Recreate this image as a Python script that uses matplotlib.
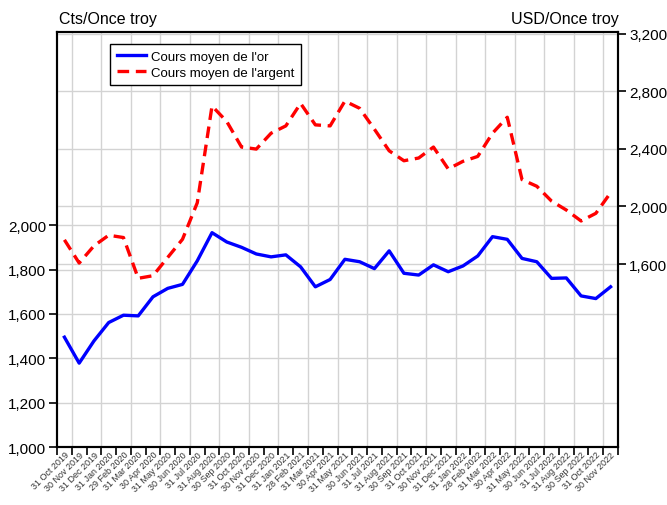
import numpy as np
import matplotlib
matplotlib.use('Agg')
import matplotlib.pyplot as plt

plt.rcParams['font.family'] = ['Liberation Sans', 'DejaVu Sans']

dates = ['31 Oct 2019', '30 Nov 2019', '31 Dec 2019', '31 Jan 2020', '29 Feb 2020',
         '31 Mar 2020', '30 Apr 2020', '31 May 2020', '30 Jun 2020', '31 Jul 2020',
         '31 Aug 2020', '30 Sep 2020', '31 Oct 2020', '30 Nov 2020', '31 Dec 2020',
         '31 Jan 2021', '28 Feb 2021', '31 Mar 2021', '30 Apr 2021', '31 May 2021',
         '30 Jun 2021', '31 Jul 2021', '31 Aug 2021', '30 Sep 2021', '31 Oct 2021',
         '30 Nov 2021', '31 Dec 2021', '31 Jan 2022', '28 Feb 2022', '31 Mar 2022',
         '30 Apr 2022', '31 May 2022', '30 Jun 2022', '31 Jul 2022', '31 Aug 2022',
         '30 Sep 2022', '31 Oct 2022', '30 Nov 2022']

# gold, left axis
gold = [1495, 1378, 1478, 1561, 1594, 1591, 1677, 1715, 1733, 1839,
        1966, 1924, 1900, 1870, 1857, 1866, 1812, 1722, 1755, 1846,
        1835, 1804, 1884, 1783, 1775, 1821, 1790, 1816, 1861, 1948,
        1936, 1850, 1835, 1760, 1762, 1681, 1669, 1722]

# silver, right axis
silver = [1768, 1607, 1726, 1800, 1784, 1501, 1519, 1646, 1772, 2025,
          2697, 2589, 2412, 2398, 2508, 2559, 2715, 2566, 2559, 2731,
          2681, 2536, 2386, 2317, 2336, 2412, 2260, 2313, 2347, 2508,
          2619, 2186, 2140, 2037, 1975, 1899, 1952, 2095]

left_ticks = [1000, 1200, 1400, 1600, 1800, 2000]
right_ticks = [1600, 2000, 2400, 2800, 3200]

x = np.arange(len(dates))

fig = plt.figure(figsize=(6.67, 5.06), dpi=100)
ax = fig.add_axes([0.0855, 0.1146, 0.841, 0.820])
ax2 = ax.twinx()

ax.set_xlim(-0.5, len(dates) - 0.5)
ax.set_ylim(1000, 2870)
ax2.set_ylim(330, 3210)

grid_kw = dict(color='#d3d3d3', linewidth=1.0)
ax.set_yticks(left_ticks)
ax.set_yticklabels([f'{v:,}' for v in left_ticks])
ax2.set_yticks(right_ticks)
ax2.set_yticklabels([f'{v:,}' for v in right_ticks])
ax.yaxis.grid(True, **grid_kw)
ax2.yaxis.grid(True, **grid_kw)

# category boundaries carry the tick marks, labels sit at the centres
ax.set_xticks(np.arange(-0.5, len(dates), 1.0))
ax.set_xticklabels([])
ax.set_xticks(x, minor=True)
ax.set_xticklabels(dates, minor=True, rotation=45, ha='right',
                   rotation_mode='anchor', fontsize=6.5, color='#333333')
ax.tick_params(axis='x', which='minor', length=0, pad=2)
ax.tick_params(axis='x', which='major', length=6, width=1.2, direction='out')
ax.xaxis.grid(True, which='major', **grid_kw)
for k, gl in enumerate(ax.get_xgridlines()):
    if k % 2 == 0:
        gl.set_visible(False)

ax.tick_params(axis='y', length=6, width=1.2, labelsize=11, pad=2)
ax2.tick_params(axis='y', length=6, width=1.2, labelsize=11, pad=2)
ax.set_axisbelow(True)
ax2.set_axisbelow(True)

for a in (ax, ax2):
    for s in a.spines.values():
        s.set_linewidth(1.5)
        s.set_color('black')

# both lines on the top axes so the grid stays underneath
l1, = ax2.plot(x, gold, color='#0000ff', linewidth=2.4,
               transform=ax.transData, label="Cours moyen de l'or")
l2, = ax2.plot(x, silver, color='#ff0000', linewidth=2.4,
               linestyle=(0, (3.5, 2)), label="Cours moyen de l'argent")

leg = ax2.legend(handles=[l1, l2], loc='upper left', bbox_to_anchor=(0.095, 0.972),
                 fontsize=9.5, frameon=True, fancybox=False, framealpha=1,
                 edgecolor='black', handlelength=2.2, handletextpad=0.4,
                 borderpad=0.5, labelspacing=0.3, borderaxespad=0)
leg.get_frame().set_linewidth(1.0)

fig.text(0.0885, 0.962, 'Cts/Once troy', fontsize=11.5, va='center', ha='left')
fig.text(0.927, 0.962, 'USD/Once troy', fontsize=11.5, va='center', ha='right')

fig.savefig('out.png', dpi=100)
